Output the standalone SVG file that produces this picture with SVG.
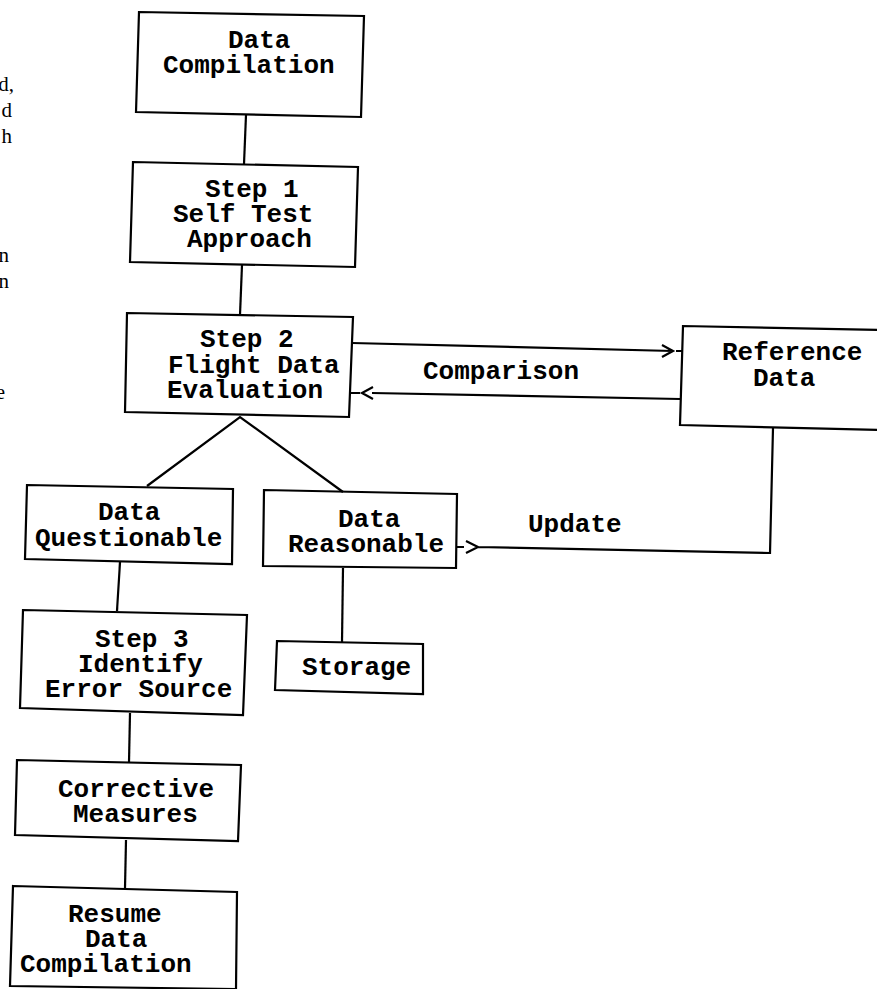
<svg xmlns="http://www.w3.org/2000/svg" width="877" height="989" viewBox="0 0 877 989">
<style>
.box{fill:none;stroke:#000;stroke-width:2.2;stroke-linejoin:miter}
.ln{fill:none;stroke:#000;stroke-width:2.2}
.t{font-family:"Liberation Mono","Courier New",monospace;font-size:26px;font-weight:bold;fill:#000}
.frag{font-family:"Liberation Serif","Times New Roman",serif;font-size:21px;fill:#000;text-anchor:end}
</style>
<rect width="877" height="989" fill="#fff"/>
<g id="margin-fragments">
<text class="frag" x="14" y="91">d,</text>
<text class="frag" x="12" y="117">d</text>
<text class="frag" x="12" y="143">h</text>
<text class="frag" x="9" y="262">n</text>
<text class="frag" x="9" y="288">n</text>
<text class="frag" x="5" y="399">e</text>
</g>
<g id="connectors">
<path class="ln" d="M246,115 L244,164"/>
<path class="ln" d="M242,265 L240,315"/>
<path class="ln" d="M147,486 L240,417 L343,492"/>
<path class="ln" d="M352,343 L673,351 M662,345 L673,351 L662,357 M676,351 L683,351"/>
<path class="ln" d="M680,399 L372,393 M373,387 L362,393 L373,399 M360,393 L351,393"/>
<path class="ln" d="M773,428 L770,553 L478,547 M466,541 L478,547 L466,553 M464,547 L457,547"/>
<path class="ln" d="M343,568 L342,642"/>
<path class="ln" d="M120,562 L117,611"/>
<path class="ln" d="M130,713 L129,762"/>
<path class="ln" d="M126,840 L125,888"/>
<text class="t" x="423" y="379">Comparison</text>
<text class="t" x="528" y="532">Update</text>
</g>
<g id="data-compilation">
<polygon class="box" points="139,12 364,16 361,117 136,112"/>
<text class="t" x="228" y="48">Data</text>
<text class="t" x="163" y="73">Compilation</text>
</g>
<g id="step1">
<polygon class="box" points="133,162 358,167 355,267 130,262"/>
<text class="t" x="205" y="197">Step 1</text>
<text class="t" x="173" y="222">Self Test</text>
<text class="t" x="187" y="247">Approach</text>
</g>
<g id="step2">
<polygon class="box" points="127,313 353,317 349,417 125,412"/>
<text class="t" x="200" y="347">Step 2</text>
<text class="t" x="168" y="373">Flight Data</text>
<text class="t" x="167" y="398">Evaluation</text>
</g>
<g id="reference-data">
<polyline class="box" points="880,330 683,326 680,425 880,430"/>
<text class="t" x="722" y="360">Reference</text>
<text class="t" x="753" y="386">Data</text>
</g>
<g id="data-questionable">
<polygon class="box" points="27,485 233,489 232,564 25,559"/>
<text class="t" x="98" y="520">Data</text>
<text class="t" x="35" y="546">Questionable</text>
</g>
<g id="data-reasonable">
<polygon class="box" points="264,490 457,494 456,568 263,566"/>
<text class="t" x="338" y="527">Data</text>
<text class="t" x="288" y="552">Reasonable</text>
</g>
<g id="storage">
<polygon class="box" points="277,641 423,644 423,694 275,690"/>
<text class="t" x="302" y="675">Storage</text>
</g>
<g id="step3">
<polygon class="box" points="23,610 247,615 243,715 20,708"/>
<text class="t" x="95" y="647">Step 3</text>
<text class="t" x="78" y="672">Identify</text>
<text class="t" x="45" y="697">Error Source</text>
</g>
<g id="corrective">
<polygon class="box" points="17,760 241,765 238,841 15,835"/>
<text class="t" x="58" y="797">Corrective</text>
<text class="t" x="73" y="822">Measures</text>
</g>
<g id="resume">
<polygon class="box" points="13,886 237,892 236,989 10,986"/>
<text class="t" x="68" y="922">Resume</text>
<text class="t" x="85" y="947">Data</text>
<text class="t" x="20" y="972">Compilation</text>
</g>
</svg>
